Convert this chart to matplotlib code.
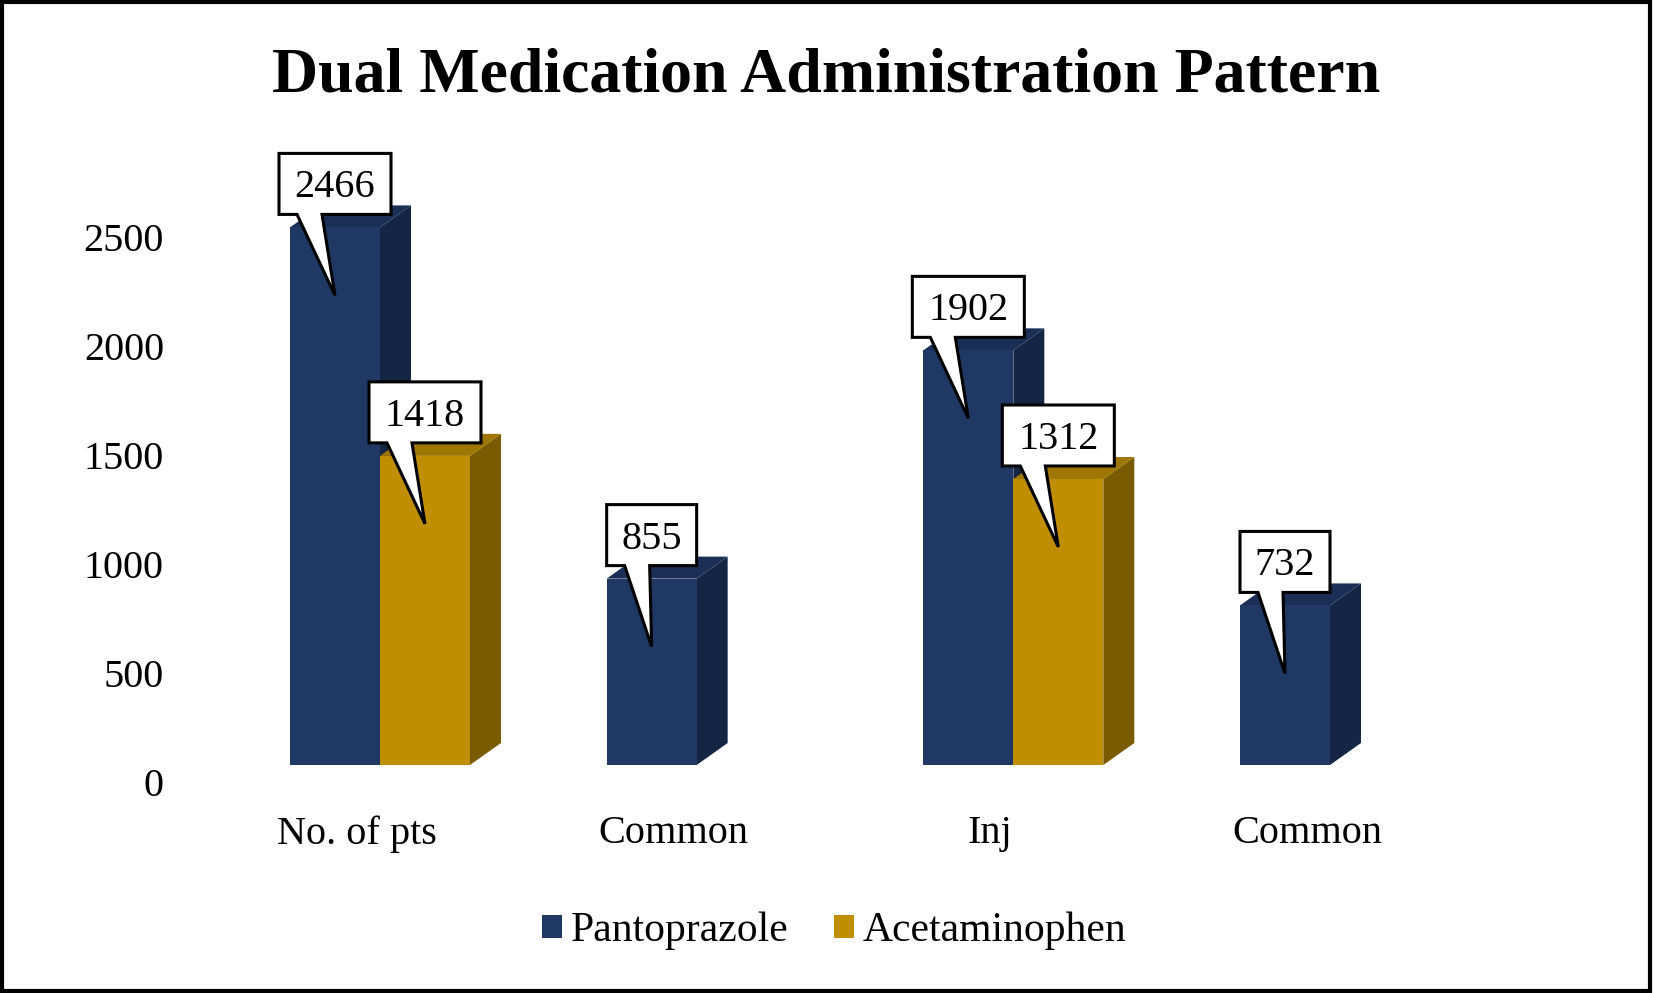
import numpy as np
import matplotlib
matplotlib.use('Agg')
import matplotlib.pyplot as plt
import matplotlib.transforms as mtransforms
from matplotlib.patches import Polygon, Rectangle

categories = ['No. of pts', 'Common', 'Inj', 'Common']
pantoprazole = [2466, 855, 1902, 732]
acetaminophen = [1418, None, 1312, None]
yticks = [0, 500, 1000, 1500, 2000, 2500]
title = 'Dual Medication Administration Pattern'

plt.rcParams['font.family'] = ['Liberation Serif', 'DejaVu Serif']

W, H = 1653, 993
fig = plt.figure(figsize=(W / 100, H / 100), dpi=100)

# axes placed in pixel terms so the layout lines up with the reference
ax_l, ax_r, ax_b, ax_t = 200, 1450, 765, 150
ax = fig.add_axes([ax_l / W, 1 - ax_b / H, (ax_r - ax_l) / W, (ax_b - ax_t) / H])
px_x = 316.67          # pixels per category
px_y = 0.218           # pixels per unit
ax.set_xlim((ax_l - 357) / px_x, (ax_r - 357) / px_x)
ax.set_ylim(0, (ax_b - ax_t) / px_y)

bw = 90 / px_x
ddx = 31 / px_x        # depth of the fake 3d
ddy = 22 / px_y

series = [
    (pantoprazole, -0.0695, ('#203864', '#1b2f56', '#152544'), 'Pantoprazole'),
    (acetaminophen, 0.2147, ('#BF8F00', '#9e7700', '#7a5c00'), 'Acetaminophen'),
]

def bar3d(xc, v, cols):
    x0, x1 = xc - bw / 2, xc + bw / 2
    front, top, side = cols
    ax.add_patch(Polygon([(x1, 0), (x1 + ddx, ddy), (x1 + ddx, v + ddy), (x1, v)],
                         closed=True, fc=side, ec='none', zorder=2))
    ax.add_patch(Polygon([(x0, v), (x1, v), (x1 + ddx, v + ddy), (x0 + ddx, v + ddy)],
                         closed=True, fc=top, ec='none', zorder=2))
    ax.add_patch(Rectangle((x0, 0), bw, v, fc=front, ec='none', zorder=2))

def callout(xc, v):
    s = str(v)
    hw = 12 + 11 * len(s)
    b, t = 13, 74
    pts = [(-hw, b), (-hw + 18, b), (0, -68), (-hw + 43, b), (hw, b), (hw, t), (-hw, t)]
    tr = fig.dpi_scale_trans + mtransforms.ScaledTranslation(xc, v, ax.transData)
    ax.add_patch(Polygon([(a / 100, c / 100) for a, c in pts], closed=True,
                         fc='white', ec='black', lw=2.2, transform=tr, zorder=5,
                         joinstyle='miter', clip_on=False))
    ax.text(0, (b + t) / 200 - 0.04, s, transform=tr, ha='center', va='center',
            fontsize=29, zorder=6)

x = np.arange(len(categories))
for vals, off, cols, name in series:
    for i, v in enumerate(vals):
        if v:
            bar3d(x[i] + off, v, cols)
    ax.bar([0], [0], color=cols[0], label=name)   # legend proxy

for vals, off, cols, name in series:
    for i, v in enumerate(vals):
        if v:
            callout(x[i] + off, v)

ax.set_xticks(x)
ax.set_xticklabels(categories, fontsize=29)
ax.set_yticks(yticks)
ax.set_yticklabels([str(t) for t in yticks], fontsize=29)
ax.tick_params(axis='both', length=0)
ax.tick_params(axis='y', pad=26)
ax.tick_params(axis='x', pad=36)
shift = mtransforms.ScaledTranslation(0, -17 / 100, fig.dpi_scale_trans)
for lab in ax.get_yticklabels():
    lab.set_transform(lab.get_transform() + shift)
for sp in ax.spines.values():
    sp.set_visible(False)

fig.text(0.5, 1 - 77 / H, title, ha='center', va='center', fontsize=46, fontweight='bold')

fig.legend(loc='center', bbox_to_anchor=(834 / W, 1 - 931 / H), ncol=2, frameon=False,
           fontsize=30, handlelength=0.48, handleheight=0.48, handletextpad=0.2,
           columnspacing=1.1)

fig.patches.append(Rectangle((0.001, 0.002), 0.997, 0.996, transform=fig.transFigure,
                             fill=False, ec='black', lw=3))

fig.savefig('out.png', dpi=100)
